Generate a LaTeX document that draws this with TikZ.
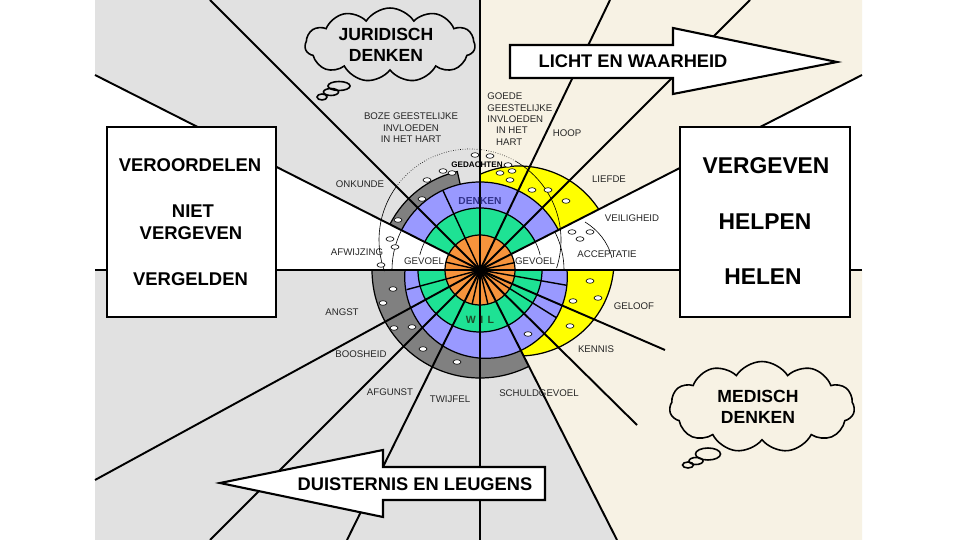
\documentclass[tikz,border=0pt]{standalone}
\usepackage{fontspec}
\setmainfont{Liberation Sans}
\usetikzlibrary{shapes.symbols}
\definecolor{bggray}{HTML}{E1E1E1}
\definecolor{bgcream}{HTML}{F7F2E4}
\definecolor{ringorange}{HTML}{F7943C}
\definecolor{ringgreen}{HTML}{1EE294}
\definecolor{ringblue}{HTML}{9999FF}
\definecolor{ringyellow}{HTML}{FFFF00}
\definecolor{ringgray}{HTML}{808080}
\definecolor{denkblue}{HTML}{33338C}
\definecolor{wilgreen}{HTML}{1F4F2A}
\tikzset{
  bigline/.style={line width=1.1pt},
  spoke/.style={line width=0.8pt},
  ringline/.style={line width=0.7pt},
  thinarc/.style={line width=0.35pt},
  oval/.style={fill=white, draw, line width=0.35pt},
  lbl/.style={font=\fontsize{5.5}{6.5}\selectfont, inner sep=0pt, text=black!85},
  lboxtext/.style={font=\bfseries\fontsize{10.5}{12}\selectfont, inner sep=0pt},
  rboxtext/.style={font=\bfseries\fontsize{13}{15}\selectfont, inner sep=0pt},
  panel/.style={draw, fill=white, line width=1.2pt, inner sep=0pt},
  arrowbody/.style={draw, fill=white, line width=1.2pt, line join=miter},
  arrowtext/.style={font=\bfseries\fontsize{10.4}{12}\selectfont, inner sep=0pt},
  thoughtcloud/.style={cloud, draw, cloud puffs=11, cloud puff arc=115, cloud ignores aspect, line width=0.9pt, inner sep=0pt},
  cloudtext/.style={font=\bfseries\fontsize{10}{11.6}\selectfont, align=center, inner sep=0pt},
  bubble/.style={draw, line width=0.9pt}
}
\begin{document}
\begin{tikzpicture}[x=0.02cm,y=-0.02cm]
\useasboundingbox (0,0) rectangle (960,540);
\fill[white] (0,0) rectangle (960,540);
% backgrounds
\fill[bggray] (480,270) -- (480,0) -- (95,0) -- (95,75) -- cycle;
\fill[bggray] (480,270) -- (95,270) -- (95,540) -- (617,540) -- cycle;
\fill[bgcream] (480,270) -- (480,0) -- (862,0) -- (862,75) -- cycle;
\fill[bgcream] (480,270) -- (862,270) -- (862,540) -- (617,540) -- cycle;

\coordinate (c) at (480,270);
\coordinate (eTop) at (480,0);
\coordinate (eBot) at (480,540);
\coordinate (eL) at (95,270);
\coordinate (eR) at (862,270);
\coordinate (e135) at (210,0);
\coordinate (e153) at (95,75);
\coordinate (e64) at (610,0);
\coordinate (e45) at (750,0);
\coordinate (e27) at (862,75);
\coordinate (e208) at (95,480);
\coordinate (e225) at (210,540);
\coordinate (e244) at (347,540);
\coordinate (e297) at (617,540);
\coordinate (e315) at (637,425);
\coordinate (e337) at (665,350);

% ring fills
\begin{scope}[shift={(480,270)}, yscale=-1]
  \fill[ringgray] (0,0) -- (103:101) arc[start angle=103, end angle=153, radius=101] -- cycle;
  \fill[ringgray] (0,0) -- (180:108) arc[start angle=180, end angle=297, radius=108] -- cycle;
  \begin{scope}
    \clip (0,0) -- (27:250) -- (60:250) -- (90:250) -- cycle;
    \fill[ringyellow] (39,9) circle (95);
  \end{scope}
  \begin{scope}
    \clip (0,0) -- (0:250) -- (-30:250) -- (-63:250) -- cycle;
    \fill[ringyellow] (39,9) circle (95);
  \end{scope}
  \fill[ringblue] (0,0) -- (27:88) arc[start angle=27, end angle=153, radius=88] -- cycle;
  \begin{scope}
    \clip (-150,0) rectangle (150,-150);
    \fill[ringblue] (6,-7) circle (81.3);
  \end{scope}
  \fill[ringgreen] (0,0) -- (27:62) arc[start angle=27, end angle=153, radius=62] -- cycle;
  \fill[ringgreen] (0,0) -- (180:62) arc[start angle=180, end angle=360, radius=62] -- cycle;
  \fill[ringorange] (0,0) circle (35);
\end{scope}

% long lines
\foreach \e in {eTop,eBot,eL,eR,e135,e153,e64,e45,e27,e208,e225,e244,e297,e315,e337}
  \draw[bigline] (c) -- (\e);

% outlines, short spokes, thin arcs
\begin{scope}[shift={(480,270)}, yscale=-1]
  \draw[ringline] (0,0) circle (35);
  \draw[ringline] (27:62) arc[start angle=27, end angle=153, radius=62];
  \draw[ringline] (180:62) arc[start angle=180, end angle=360, radius=62];
  \draw[ringline] (27:88) arc[start angle=27, end angle=153, radius=88];
  \begin{scope}
    \clip (-150,0) rectangle (150,-150);
    \draw[ringline] (6,-7) circle (81.3);
  \end{scope}
  \draw[ringline] (103:88) -- (103:101) arc[start angle=103, end angle=153, radius=101];
  \draw[ringline] (180:108) arc[start angle=180, end angle=297, radius=108];
  \begin{scope}
    \clip (0,0) -- (27:250) -- (60:250) -- (90:250) -- cycle;
    \draw[ringline] (39,9) circle (95);
  \end{scope}
  \begin{scope}
    \clip (0,0) -- (0:250) -- (-30:250) -- (-63:250) -- cycle;
    \draw[ringline] (39,9) circle (95);
  \end{scope}
  \foreach \a/\r in {115/88, 195/76, 328/90, 350/88, 167/35, 12/35, 257/35, 283/35}
    \draw[spoke] (0,0) -- (\a:\r);
  % thin arcs in the white wedges
  \draw[thinarc] (153:62) arc[start angle=153, end angle=166, radius=62];
  \draw[thinarc] (153:88) arc[start angle=153, end angle=180, radius=88];
  \draw[thinarc] (14:62) arc[start angle=14, end angle=27, radius=62];
  \draw[thinarc] (0:84) arc[start angle=0, end angle=27, radius=84];
  % thought circle
  \draw[thinarc] (-10,30) ++(200:91) arc[start angle=200, end angle=144, radius=91];
  \draw[thinarc, densely dotted] (-10,30) ++(144:91) arc[start angle=144, end angle=60, radius=91];
  \draw[thinarc] (-10,30) ++(60:91) arc[start angle=60, end angle=-18, radius=91];
  \draw[thinarc] (105,48) .. controls (118,40) and (128,28) .. (132,12);
\end{scope}

% small ovals
\foreach \p in {(475,155),(490,156),(508,165),(500,173),(512,171),(452,173),(443,171),(427,180),
  (422,199),(398,220),(390,239),(395,247),(381,265),
  (510,180),(532,190),(548,190),(566,201),
  (572,232),(580,239),(590,232),
  (590,281),(573,301),(598,298),(570,326),(528,334),
  (393,289),(383,303),(394,328),(412,327),(423,349),(457,362)}
  \draw[oval] \p ellipse [x radius=4, y radius=2.3];

% labels
\node[lbl, align=center] (boze) at (411,128) {BOZE GEESTELIJKE\\INVLOEDEN\\IN HET HART};
\node[lbl, align=left, anchor=north west] (goede) at (487,92.5) {GOEDE\\GEESTELIJKE\\INVLOEDEN\\\hspace*{5pt}IN HET\\\hspace*{5pt}HART};
\node[lbl] (hoop) at (567,133) {HOOP};
\node[lbl] (liefde) at (609,179) {LIEFDE};
\node[lbl] (veilig) at (632,218) {VEILIGHEID};
\node[lbl] (accept) at (607,254) {ACCEPTATIE};
\node[lbl] (gevr) at (535,261) {GEVOEL};
\node[lbl] (gevl) at (424,261) {GEVOEL};
\node[lbl] (onkunde) at (360,184) {ONKUNDE};
\node[lbl] (afwijz) at (357,252) {AFWIJZING};
\node[lbl] (angst) at (342,312) {ANGST};
\node[lbl] (boos) at (361,354) {BOOSHEID};
\node[lbl] (afgunst) at (390,392) {AFGUNST};
\node[lbl] (twijfel) at (450,399) {TWIJFEL};
\node[lbl] (schuld) at (539,393) {SCHULDGEVOEL};
\node[lbl] (kennis) at (596,349) {KENNIS};
\node[lbl] (geloof) at (634,306) {GELOOF};
\node[inner sep=0pt, font=\bfseries\fontsize{4.6}{5}\selectfont] (gedacht) at (477,165) {GEDACHTEN};
\node[inner sep=0pt, font=\bfseries\fontsize{5.8}{6}\selectfont, text=denkblue] (denken) at (480,201) {DENKEN};
\node[inner sep=0pt, font=\bfseries\fontsize{6}{6}\selectfont, text=wilgreen] (wil) at (480,320) {W\hspace{2.5pt}I\hspace{2.5pt}L};

% side panels
\node[panel, minimum width=3.38cm, minimum height=3.8cm] (lbox) at (191.5,222) {};
\node[lboxtext] (t1) at (190,165) {VEROORDELEN};
\node[lboxtext] (t2) at (193,211) {NIET};
\node[lboxtext] (t3) at (191,233.5) {VERGEVEN};
\node[lboxtext] (t4) at (190.5,279) {VERGELDEN};
\node[panel, minimum width=3.4cm, minimum height=3.8cm] (rbox) at (765,222) {};
\node[rboxtext] (r1) at (766,166) {VERGEVEN};
\node[rboxtext] (r2) at (765,222) {HELPEN};
\node[rboxtext] (r3) at (763,277) {HELEN};

% arrows
\draw[arrowbody] (510,45) -- (673,45) -- (673,28) -- (837,62) -- (673,94) -- (673,78) -- (510,78) -- cycle;
\node[arrowtext] (licht) at (633,61) {LICHT EN WAARHEID};
\draw[arrowbody] (545,467) -- (383,467) -- (383,450) -- (220,483) -- (383,517) -- (383,500) -- (545,500) -- cycle;
\node[arrowtext] (duister) at (415,484) {DUISTERNIS EN LEUGENS};

% thought clouds
\node[thoughtcloud, minimum width=3.4cm, minimum height=1.48cm] (jcloud) at (390,45) {};
\node[cloudtext] (jtext) at (386,45) {JURIDISCH\\DENKEN};
\draw[bubble] (339,86) ellipse [x radius=11, y radius=4.5];
\draw[bubble] (331,92) ellipse [x radius=7.5, y radius=3.5];
\draw[bubble] (322,97) ellipse [x radius=5, y radius=3];
\node[thoughtcloud, minimum width=3.7cm, minimum height=1.82cm] (mcloud) at (762,407) {};
\node[cloudtext] (mtext) at (758,407) {MEDISCH\\DENKEN};
\draw[bubble] (708,454) ellipse [x radius=12.5, y radius=6];
\draw[bubble] (696,461) ellipse [x radius=7, y radius=3.5];
\draw[bubble] (688,465) ellipse [x radius=5.5, y radius=3];
\end{tikzpicture}
\end{document}
